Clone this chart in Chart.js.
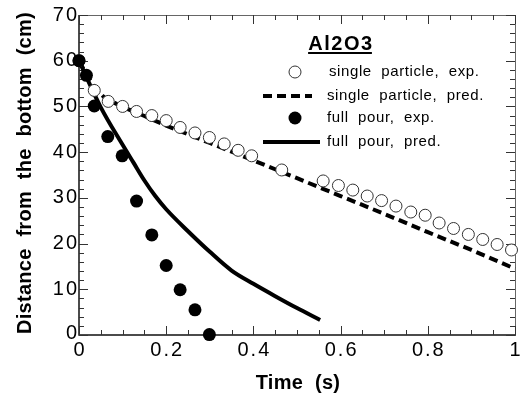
<!DOCTYPE html>
<html>
<head>
<meta charset="utf-8">
<script src="https://cdn.jsdelivr.net/npm/chart.js@4/dist/chart.umd.min.js"></script>
<style>
  html, body { margin: 0; padding: 0; background: #fff; }
  canvas { display: block; }
</style>
</head>
<body>
<canvas id="chart" width="526" height="399"></canvas>
<script>
// Al2O3 settling: distance from the bottom vs time

const singleExpTime = [0, 0.035, 0.067, 0.100, 0.132, 0.167, 0.200, 0.232, 0.266, 0.299, 0.333, 0.365, 0.396,
  0.465, 0.560, 0.595, 0.628, 0.661, 0.694, 0.727, 0.761, 0.794, 0.826, 0.859, 0.893, 0.926, 0.959, 0.992];
const singleExpDist = [60, 53.5, 51.1, 50.0, 48.9, 48.0, 46.9, 45.4, 44.2, 43.2, 41.8, 40.4, 39.2,
  36.1, 33.7, 32.7, 31.7, 30.4, 29.4, 28.2, 26.9, 26.2, 24.5, 23.3, 22.0, 20.9, 19.8, 18.6];

const singlePredTime = [0, 0.02, 0.04, 0.06, 0.10, 0.15, 0.20, 0.30, 0.40, 0.50, 0.60, 0.70, 0.80, 0.90, 1.0];
const singlePredDist = [60, 56.5, 53.6, 51.8, 49.9, 47.9, 45.8, 42.0, 38.2, 34.3, 30.4, 26.5, 22.5, 18.6, 14.5];

const pourExpTime = [0, 0.017, 0.035, 0.066, 0.099, 0.132, 0.167, 0.200, 0.232, 0.266, 0.299];
const pourExpDist = [60, 56.8, 50.1, 43.4, 39.2, 29.3, 21.9, 15.2, 9.9, 5.5, 0.1];

const pourPredTime = [0, 0.05, 0.10, 0.125, 0.15, 0.175, 0.20, 0.25, 0.30, 0.35, 0.40, 0.45, 0.50, 0.553];
const pourPredDist = [60, 49.8, 41.6, 37.7, 33.8, 30.4, 27.5, 22.7, 18.2, 14.1, 11.2, 8.5, 5.9, 3.3];

const xTicks = [0, 0.2, 0.4, 0.6, 0.8, 1];
const xTickLabels = ['0', '0.2', '0.4', '0.6', '0.8', '1'];
const yTicks = [0, 10, 20, 30, 40, 50, 60, 70];
const yTickLabels = ['0', '10', '20', '30', '40', '50', '60', '70'];
const xMinorStep = 0.05;
const yMinorStep = 2;

const legendTitle = 'Al2O3';
const legendLabels = ['single  particle,  exp.', 'single  particle,  pred.', 'full  pour,  exp.', 'full  pour,  pred.'];
const xTitle = 'Time  (s)';
const yTitle = 'Distance  from  the  bottom  (cm)';

const FONT = '"Liberation Sans", Arial, Helvetica, sans-serif';

function toPoints(xs, ys) {
  return xs.map((x, i) => ({ x, y: ys[i] }));
}

// Frame with inward ticks on all four sides, plus labels and legend
const framePlugin = {
  id: 'frame',
  beforeDatasetsDraw(chart) {
    const { ctx, chartArea: a, scales: { x, y } } = chart;
    ctx.save();

    ctx.strokeStyle = '#666';
    ctx.lineWidth = 1;
    ctx.beginPath();
    ctx.moveTo(a.left, a.top + 0.5);
    ctx.lineTo(a.right + 0.5, a.top + 0.5);
    ctx.lineTo(a.right + 0.5, a.bottom);
    ctx.stroke();

    ctx.strokeStyle = '#111';
    ctx.lineWidth = 1.5;
    ctx.beginPath();
    ctx.moveTo(a.left, a.top);
    ctx.lineTo(a.left, a.bottom);
    ctx.lineTo(a.right + 1, a.bottom);
    ctx.stroke();

    ctx.lineWidth = 1;
    ctx.strokeStyle = '#333';
    ctx.beginPath();
    const tickX = (v, len) => {
      const px = Math.round(x.getPixelForValue(v)) + 0.5;
      ctx.moveTo(px, a.bottom); ctx.lineTo(px, a.bottom - len);
      ctx.moveTo(px, a.top); ctx.lineTo(px, a.top + len);
    };
    const tickY = (v, len) => {
      const py = Math.round(y.getPixelForValue(v)) + 0.5;
      ctx.moveTo(a.left, py); ctx.lineTo(a.left + len, py);
      ctx.moveTo(a.right, py); ctx.lineTo(a.right - len, py);
    };
    for (let i = 1; i * xMinorStep < x.max - 1e-9; i++) tickX(i * xMinorStep, 5);
    for (let i = 1; i * yMinorStep < y.max - 1e-9; i++) tickY(i * yMinorStep, 5);
    xTicks.forEach(v => tickX(v, 9));
    yTicks.forEach(v => tickY(v, 9));
    ctx.stroke();
    ctx.restore();
  },

  afterDraw(chart) {
    const { ctx, chartArea: a, scales: { x, y } } = chart;
    ctx.save();
    ctx.fillStyle = '#000';

    // tick labels
    ctx.font = '20px ' + FONT;
    ctx.letterSpacing = '2px';
    ctx.textBaseline = 'middle';
    ctx.textAlign = 'right';
    yTicks.forEach((v, i) => {
      ctx.fillText(yTickLabels[i], a.left, y.getPixelForValue(v) - (v === 0 ? 2 : 0));
    });
    ctx.textAlign = 'center';
    ctx.textBaseline = 'top';
    xTicks.forEach((v, i) => {
      ctx.fillText(xTickLabels[i], x.getPixelForValue(v) + 1, a.bottom + 5);
    });

    // axis titles
    ctx.font = 'bold 20px ' + FONT;
    ctx.letterSpacing = '0.3px';
    ctx.textBaseline = 'middle';
    ctx.fillText(xTitle, 298, 383);
    ctx.save();
    ctx.translate(25, 173);
    ctx.rotate(-Math.PI / 2);
    ctx.fillText(yTitle, 0, 0);
    ctx.restore();

    // legend
    ctx.font = 'bold 20px ' + FONT;
    ctx.letterSpacing = '1.5px';
    ctx.fillText(legendTitle, 341, 44);
    const tw = ctx.measureText(legendTitle).width - 1.5;
    ctx.fillRect(340 - tw / 2, 52, tw, 2);

    const rows = [72, 96, 118, 142];
    ctx.lineWidth = 1;
    ctx.strokeStyle = '#333';
    ctx.fillStyle = '#fff';
    ctx.beginPath();
    ctx.arc(295, rows[0], 6, 0, Math.PI * 2);
    ctx.fill();
    ctx.stroke();

    ctx.fillStyle = '#000';
    ctx.beginPath();
    ctx.arc(295, rows[2], 6.5, 0, Math.PI * 2);
    ctx.fill();

    ctx.strokeStyle = '#000';
    ctx.lineWidth = 4;
    ctx.setLineDash([9, 5]);
    ctx.beginPath();
    ctx.moveTo(263, rows[1]); ctx.lineTo(312, rows[1]);
    ctx.stroke();
    ctx.setLineDash([]);
    ctx.beginPath();
    ctx.moveTo(263, rows[3]); ctx.lineTo(320, rows[3]);
    ctx.stroke();

    ctx.font = '15px ' + FONT;
    ctx.letterSpacing = '0.6px';
    ctx.textAlign = 'left';
    legendLabels.forEach((t, i) => ctx.fillText(t, i === 0 ? 329 : 327, rows[i]));

    ctx.restore();
  }
};

new Chart(document.getElementById('chart'), {
  type: 'scatter',
  data: {
    datasets: [
      {
        label: legendLabels[1],
        data: toPoints(singlePredTime, singlePredDist),
        showLine: true,
        borderColor: '#000',
        borderWidth: 4,
        borderDash: [9, 5],
        pointRadius: 0,
        clip: false,
        order: 4
      },
      {
        label: legendLabels[3],
        data: toPoints(pourPredTime, pourPredDist),
        showLine: true,
        cubicInterpolationMode: 'monotone',
        borderColor: '#000',
        borderWidth: 4,
        pointRadius: 0,
        clip: false,
        order: 3
      },
      {
        label: legendLabels[0],
        data: toPoints(singleExpTime, singleExpDist),
        pointRadius: 6,
        pointBackgroundColor: '#fff',
        pointBorderColor: '#333',
        pointBorderWidth: 1,
        clip: false,
        order: 2
      },
      {
        label: legendLabels[2],
        data: toPoints(pourExpTime, pourExpDist),
        pointRadius: 6.5,
        pointBackgroundColor: '#000',
        pointBorderColor: '#000',
        pointBorderWidth: 0,
        clip: false,
        order: 1
      }
    ]
  },
  options: {
    responsive: false,
    animation: false,
    devicePixelRatio: 1,
    layout: { padding: { left: 79, right: 11, top: 15, bottom: 64 } },
    plugins: {
      legend: { display: false },
      tooltip: { enabled: false }
    },
    scales: {
      x: { type: 'linear', min: 0, max: 1, display: false },
      y: { type: 'linear', min: 0, max: 70, display: false }
    }
  },
  plugins: [framePlugin]
});
</script>
</body>
</html>
